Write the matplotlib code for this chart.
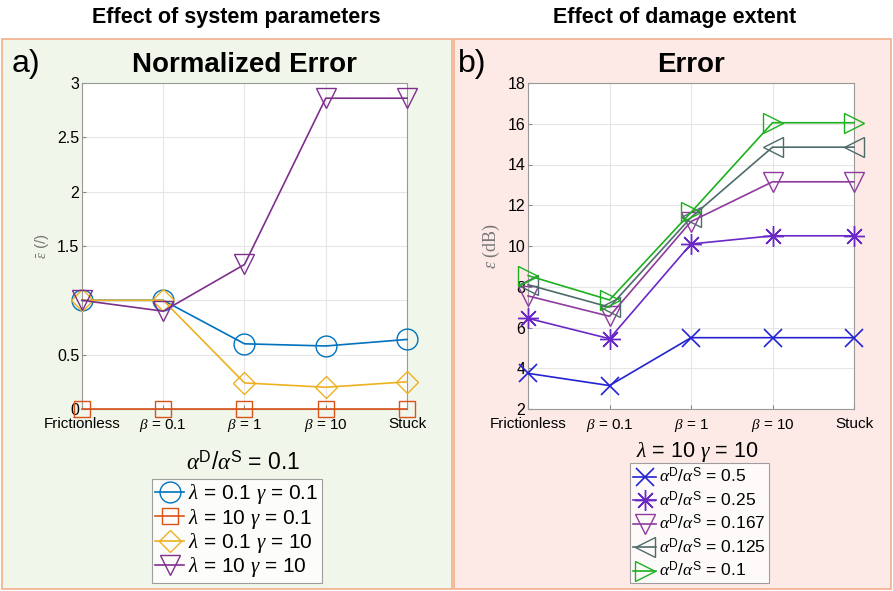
import numpy as np
import matplotlib.pyplot as plt
from matplotlib.patches import Rectangle

plt.rcParams['font.family'] = ['Liberation Sans', 'DejaVu Sans']
plt.rcParams['mathtext.fontset'] = 'custom'
plt.rcParams['mathtext.rm'] = 'Liberation Sans'
plt.rcParams['mathtext.it'] = 'Liberation Serif:italic'
plt.rcParams['mathtext.bf'] = 'Liberation Sans:bold'

# Data
cases = ['Frictionless', r'$\beta$ = 0.1', r'$\beta$ = 1', r'$\beta$ = 10', 'Stuck']

# panel a: normalized error, alpha^D/alpha^S = 0.1
norm_l01_g01 = [1.0, 1.0, 0.60, 0.58, 0.64]
norm_l10_g01 = [0.0, 0.0, 0.0, 0.0, 0.0]
norm_l01_g10 = [1.0, 1.0, 0.24, 0.20, 0.25]
norm_l10_g10 = [1.0, 0.90, 1.33, 2.86, 2.86]
labels_a = [r'$\lambda$ = 0.1 $\gamma$ = 0.1', r'$\lambda$ = 10 $\gamma$ = 0.1',
            r'$\lambda$ = 0.1 $\gamma$ = 10', r'$\lambda$ = 10 $\gamma$ = 10']

# panel b: error (dB), lambda = 10 gamma = 10
err_05 = [3.75, 3.15, 5.5, 5.5, 5.5]
err_025 = [6.45, 5.45, 10.1, 10.5, 10.5]
err_0167 = [7.55, 6.55, 11.2, 13.15, 13.15]
err_0125 = [8.1, 7.0, 11.4, 14.85, 14.85]
err_01 = [8.55, 7.35, 11.65, 16.05, 16.05]
ratios_b = ['0.5', '0.25', '0.167', '0.125', '0.1']

W, H = 893, 591
fig = plt.figure(figsize=(W / 100, H / 100), dpi=100)

def fx(px):
    return px / W

def fy(py):
    return 1 - py / H

# panel backgrounds
fig.patches.append(Rectangle((fx(2), fy(589)), fx(452) - fx(2), fy(39) - fy(589),
                             transform=fig.transFigure, facecolor='#F1F6EA',
                             edgecolor='#F2AE8C', linewidth=1.2, zorder=-10))
fig.patches.append(Rectangle((fx(454), fy(589)), fx(891) - fx(454), fy(39) - fy(589),
                             transform=fig.transFigure, facecolor='#FDEAE7',
                             edgecolor='#F2AE8C', linewidth=1.2, zorder=-10))

fig.text(fx(236), fy(18), 'Effect of system parameters', ha='center', va='center',
         fontsize=15.5, fontweight='bold')
fig.text(fx(675), fy(18), 'Effect of damage extent', ha='center', va='center',
         fontsize=15.5, fontweight='bold')

fig.text(fx(12), fy(64), 'a)', ha='left', va='center', fontsize=23)
fig.text(fx(458), fy(64), 'b)', ha='left', va='center', fontsize=23)

x = np.arange(len(cases))


def style_axes(ax, ylim, yticks, yticklabels):
    ax.set_xlim(0, len(cases) - 1)
    ax.set_ylim(*ylim)
    ax.set_xticks(x)
    ax.set_xticklabels(cases, fontsize=11)
    ax.set_yticks(yticks)
    ax.set_yticklabels(yticklabels, fontsize=11.5)
    ax.grid(True, color='#E6E6E6', linewidth=0.8)
    ax.set_axisbelow(True)
    ax.tick_params(direction='in', length=3, color='#888888')
    ax.tick_params(axis='x', pad=6)
    ax.tick_params(axis='y', pad=2)
    for s in ax.spines.values():
        s.set_color('#999999')
        s.set_linewidth(0.8)


# ---- panel a
ax1 = fig.add_axes([fx(82), fy(409), fx(407) - fx(82), fy(83) - fy(409)])
ms = 15
l1, = ax1.plot(x, norm_l01_g01, '-o', color='#0072BD', mfc='none', ms=ms, lw=1.2, clip_on=False, zorder=3)
l2, = ax1.plot(x, norm_l10_g01, '-s', color='#D95319', mfc='none', ms=11, lw=1.2, clip_on=False, zorder=3)
l3, = ax1.plot(x, norm_l01_g10, '-D', color='#EDB120', mfc='none', ms=11, lw=1.2, clip_on=False, zorder=3)
l4, = ax1.plot(x, norm_l10_g10, '-v', color='#7E2F8E', mfc='none', ms=ms, lw=1.2, clip_on=False, zorder=3)
style_axes(ax1, (0, 3), [0, 0.5, 1, 1.5, 2, 2.5, 3], ['0', '0.5', '', '1.5', '2', '2.5', '3'])
ax1.set_ylabel(r'$\bar{\varepsilon}$ (/)', color='#777777', fontsize=11, labelpad=4)
ax1.set_title('Normalized Error', fontsize=20, fontweight='bold', pad=8)

fig.text(fx(243), fy(463), r'$\alpha^{\rm D}/\alpha^{\rm S}$ = 0.1', ha='center', va='center', fontsize=16.5)
leg1 = fig.legend([l1, l2, l3, l4], labels_a, loc='upper left',
                  bbox_to_anchor=(fx(152), fy(479)), fontsize=15, frameon=True,
                  fancybox=False, edgecolor='#888888', handlelength=1.4,
                  handletextpad=0.2, labelspacing=0.02, borderpad=0.15, borderaxespad=0)
leg1.get_frame().set_linewidth(0.8)

# ---- panel b
ax2 = fig.add_axes([fx(528), fy(409), fx(854) - fx(528), fy(83) - fy(409)])
msb = 13
m1, = ax2.plot(x, err_05, '-x', color='#2323D2', ms=msb, mew=1.2, lw=1.2, clip_on=False, zorder=3)
m2, = ax2.plot(x, err_025, '-', marker=(8, 2, 0), color='#6A28C8', ms=msb + 2, mew=1.0, lw=1.2, clip_on=False, zorder=3)
m3, = ax2.plot(x, err_0167, '-v', color='#8E3A9E', mfc='none', ms=msb + 1, lw=1.2, clip_on=False, zorder=3)
m4, = ax2.plot(x, err_0125, '-<', color='#4E6B6B', mfc='none', ms=msb + 1, lw=1.2, clip_on=False, zorder=3)
m5, = ax2.plot(x, err_01, '->', color='#1DB01D', mfc='none', ms=msb + 1, lw=1.2, clip_on=False, zorder=3)
style_axes(ax2, (2, 18), list(range(2, 19, 2)), [str(v) for v in range(2, 19, 2)])
ax2.set_ylabel(r'$\varepsilon$ (dB)', color='#777777', fontsize=13, family='Liberation Serif', labelpad=4)
ax2.set_title('Error', fontsize=20, fontweight='bold', pad=8)

fig.text(fx(697), fy(452), r'$\lambda$ = 10 $\gamma$ = 10', ha='center', va='center', fontsize=15.5)
labels_b = [r'$\alpha^{\rm D}/\alpha^{\rm S}$ = ' + r for r in ratios_b]
leg2 = fig.legend([m1, m2, m3, m4, m5], labels_b, loc='upper left',
                  bbox_to_anchor=(fx(630), fy(463)), fontsize=12.5, frameon=True,
                  fancybox=False, edgecolor='#888888', handlelength=1.3,
                  handletextpad=0.15, labelspacing=0.25, borderpad=0.2, borderaxespad=0)
leg2.get_frame().set_linewidth(0.8)

fig.savefig('out.png', dpi=100)
